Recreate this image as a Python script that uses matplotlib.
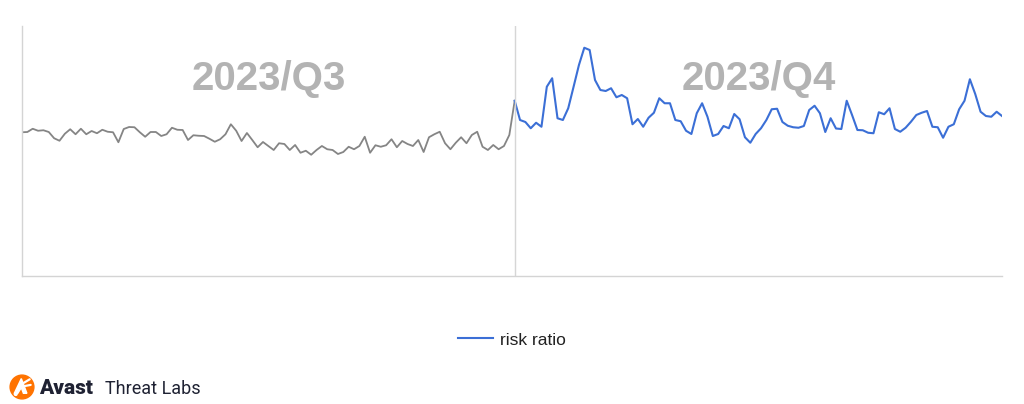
import matplotlib.pyplot as plt
from matplotlib.patches import Circle, Polygon

# daily risk ratio, Q3 = Jul 1 .. Sep 30, Q4 = Oct 1 .. Dec 31 (relative units)
q3 = [57.5, 57.6, 58.9, 58.1, 58.3, 57.6, 55.1, 54.1, 56.9, 58.7,
      56.7, 58.9, 56.7, 58.0, 57.1, 58.5, 57.7, 57.5, 53.5, 58.8,
      59.6, 59.5, 57.5, 55.7, 57.6, 57.6, 56.0, 56.7, 59.3, 58.5,
      58.4, 54.4, 56.3, 56.1, 56.0, 54.9, 53.7, 54.7, 56.7, 60.7,
      58.1, 54.0, 57.2, 54.4, 51.5, 53.6, 52.0, 50.4, 53.1, 52.8,
      50.4, 52.4, 49.3, 50.1, 48.5, 50.4, 52.0, 50.7, 50.4, 48.8,
      49.6, 51.7, 50.7, 52.0, 55.7, 49.3, 52.3, 51.7, 52.3, 54.7,
      51.5, 54.0, 52.8, 52.0, 54.4, 49.6, 55.5, 56.7, 57.7, 53.1,
      50.7, 53.3, 55.5, 53.1, 56.4, 57.7, 51.7, 50.4, 52.4, 50.7,
      52.0, 56.4]
q4 = [70.1, 62.4, 61.6, 59.1, 61.3, 59.7, 75.7, 79.1, 63.1, 62.4,
      67.1, 75.7, 84.4, 91.3, 90.4, 78.4, 74.4, 74.0, 75.1, 71.5,
      72.4, 71.1, 60.7, 62.8, 59.7, 63.3, 65.3, 71.1, 69.1, 69.1,
      62.4, 61.9, 58.1, 56.8, 65.1, 69.1, 63.7, 56.0, 56.8, 60.0,
      59.1, 64.8, 62.7, 55.5, 53.3, 56.8, 59.1, 62.4, 66.7, 66.9,
      61.6, 60.1, 59.5, 59.3, 60.0, 66.4, 68.1, 65.1, 57.6, 63.1,
      59.0, 58.8, 70.1, 64.4, 58.4, 58.3, 57.3, 57.1, 65.5, 64.7,
      67.1, 58.8, 57.7, 59.3, 61.7, 64.4, 65.3, 66.0, 59.7, 59.5,
      55.3, 59.7, 60.7, 66.7, 70.1, 78.7, 72.8, 65.7, 64.0, 63.7,
      65.7, 64.0]
labels = ["2023/Q3", "2023/Q4"]

W, H = 1024, 404
fig = plt.figure(figsize=(W / 100, H / 100), dpi=100)
plt.rcParams['font.family'] = ['Liberation Sans', 'DejaVu Sans']

ax = fig.add_axes([22 / W, 1 - 276 / H, 980 / W, 250 / H])
x3 = list(range(len(q3) + 1))
x4 = list(range(len(q3), len(q3) + len(q4)))
ax.plot(x3, q3 + [q4[0]], color="#858585", lw=1.3)
ax.plot(x4, q4, color="#3b6fd6", lw=1.5, label="risk ratio")
ax.axvline(len(q3), color="#d6d6d6", lw=1)

ax.set_xlim(0, len(q3) + len(q4) - 1)
ax.set_ylim(0, 100)
ax.set_xticks([])
ax.set_yticks([])
for s in ["top", "right"]:
    ax.spines[s].set_visible(False)
for s in ["left", "bottom"]:
    ax.spines[s].set_color("#d4d4d4")
    ax.spines[s].set_linewidth(1)

# big quarter labels
ax.text((len(q3)) / 2, 79, labels[0], ha="center", va="center",
        fontsize=29, fontweight="bold", color="#b3b3b3")
ax.text(len(q3) + (len(q4) - 1) / 2, 79, labels[1], ha="center", va="center",
        fontsize=29, fontweight="bold", color="#b3b3b3")

# legend under the chart
leg = fig.legend(loc="center", bbox_to_anchor=(512 / W, 1 - 340 / H), frameon=False,
                 fontsize=12.5, handlelength=2.0, handletextpad=0.4)
for t in leg.get_texts():
    t.set_color("#222222")

# Avast Threat Labs logo
lax = fig.add_axes([8 / W, 1 - 401 / H, 28 / W, 28 / H])
lax.set_xlim(-1, 1)
lax.set_ylim(-1, 1)
lax.set_aspect("equal")
lax.axis("off")
lax.add_patch(Circle((0, 0), 0.85, color="#ff7300"))
lax.add_patch(Polygon([[-0.55, -0.45], [-0.05, 0.6], [0.35, -0.45], [0.1, -0.45],
                       [-0.05, -0.05], [-0.3, -0.45]], color="white"))
lax.plot([0.05, 0.55], [0.25, 0.55], color="white", lw=1.6, solid_capstyle="round")
lax.plot([0.1, 0.62], [0.05, 0.15], color="white", lw=1.6, solid_capstyle="round")
lax.add_patch(Circle((-0.45, -0.5), 0.1, color="white"))

fig.text(39 / W, 1 - 394 / H, "Avast", fontsize=15, fontweight="heavy",
         color="#1f2233", va="baseline", family=["Roboto", "DejaVu Sans"])
fig.text(105 / W, 1 - 394 / H, "Threat Labs", fontsize=13, color="#1f2233",
         va="baseline", family=["Roboto", "DejaVu Sans"])

fig.savefig("out.png", dpi=100)
